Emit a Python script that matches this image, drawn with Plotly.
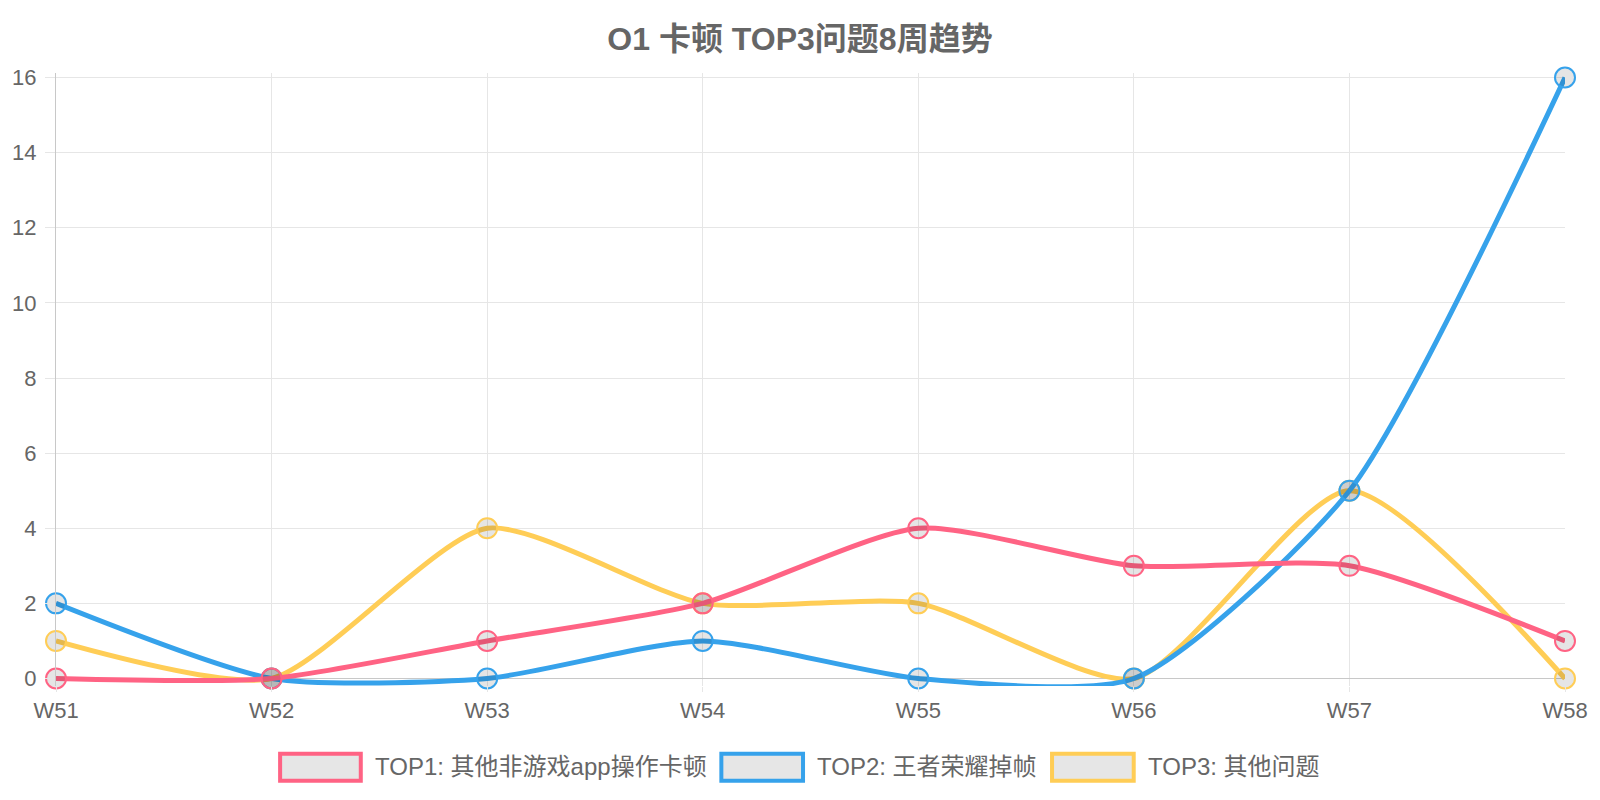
import plotly.graph_objects as go

weeks = ['W51', 'W52', 'W53', 'W54', 'W55', 'W56', 'W57', 'W58']
top1 = [0, 0, 1, 2, 4, 3, 3, 1]
top2 = [2, 0, 0, 1, 0, 0, 5, 16]
top3 = [1, 0, 4, 2, 2, 0, 5, 0]
names = ['TOP1: 其他非游戏app操作卡顿', 'TOP2: 王者荣耀掉帧', 'TOP3: 其他问题']
colors = ['#ff6384', '#36a2eb', '#ffcd56']

FONT = 'Liberation Sans, Arial, Noto Sans CJK SC, sans-serif'

# y range padded a bit so lines lying on 0 / 16 are not clipped in half
PAD = 0.2
L, R = 54, 1569
T, B = 77.5, 678.6  # pixel rows of 16 and 0
ppu = (B - T) / 16.0
T_area, B_area = T - 0.12 * ppu, B + PAD * ppu

fig = go.Figure()
series = [top1, top2, top3]
# reverse so TOP1 ends up drawn on top
for vals, name, col in reversed(list(zip(series, names, colors))):
    fig.add_trace(go.Scatter(
        x=weeks, y=vals, name=name, mode='lines+markers',
        line=dict(color=col, width=5, shape='spline', smoothing=0.65),
        marker=dict(size=20, color='rgba(0,0,0,0.1)', line=dict(color=col, width=2)),
        showlegend=False, cliponaxis=False,
    ))

def px_x(p):
    return (p - L) / (R - L)

def px_y(p):
    return (B_area - p) / (B_area - T_area)

# legend drawn by hand: chart.js style boxes + labels
legend_boxes = [(279, 360, 372), (722, 804, 816), (1054, 1136, 1148)]
for (x0, x1, tx), name, col in zip(legend_boxes, names, colors):
    fig.add_shape(type='rect', xref='paper', yref='paper',
                  x0=px_x(x0), x1=px_x(x1), y0=px_y(781), y1=px_y(754),
                  fillcolor='#e6e6e6', line=dict(color=col, width=4))
    fig.add_annotation(xref='paper', yref='paper', x=px_x(tx), y=px_y(767),
                       text=name, showarrow=False, xanchor='left', yanchor='middle',
                       font=dict(size=24, color='#666', family=FONT))

fig.update_layout(
    width=1600, height=800,
    margin=dict(l=L, r=1600 - R, t=T_area, b=800 - B_area, pad=0),
    plot_bgcolor='white', paper_bgcolor='white',
    title=dict(text='<b>O1 卡顿 TOP3问题8周趋势</b>', x=0.5, xanchor='center',
               y=1 - 39 / 800, yanchor='middle',
               font=dict(size=32, color='#666', family=FONT)),
    font=dict(family=FONT, color='#666', size=22),
)
fig.update_xaxes(range=[0, 7], showgrid=True, gridcolor='#e6e6e6', gridwidth=1,
                 ticks='outside', ticklen=5, tickcolor='#e6e6e6',
                 tickfont=dict(size=22, color='#666'), showline=False, zeroline=False)
fig.update_yaxes(range=[-PAD, 16.12], tickvals=list(range(0, 17, 2)),
                 showgrid=True, gridcolor='#e6e6e6', gridwidth=1,
                 ticks='outside', ticklen=10, tickcolor='#e6e6e6', ticklabelstandoff=4,
                 tickfont=dict(size=22, color='#666'), showline=True, linecolor='#c8c8c8',
                 zeroline=True, zerolinecolor='#c8c8c8', zerolinewidth=1)

fig.write_html('out.html', config={'displayModeBar': False},
               post_script="document.body.style.margin='0px';")
